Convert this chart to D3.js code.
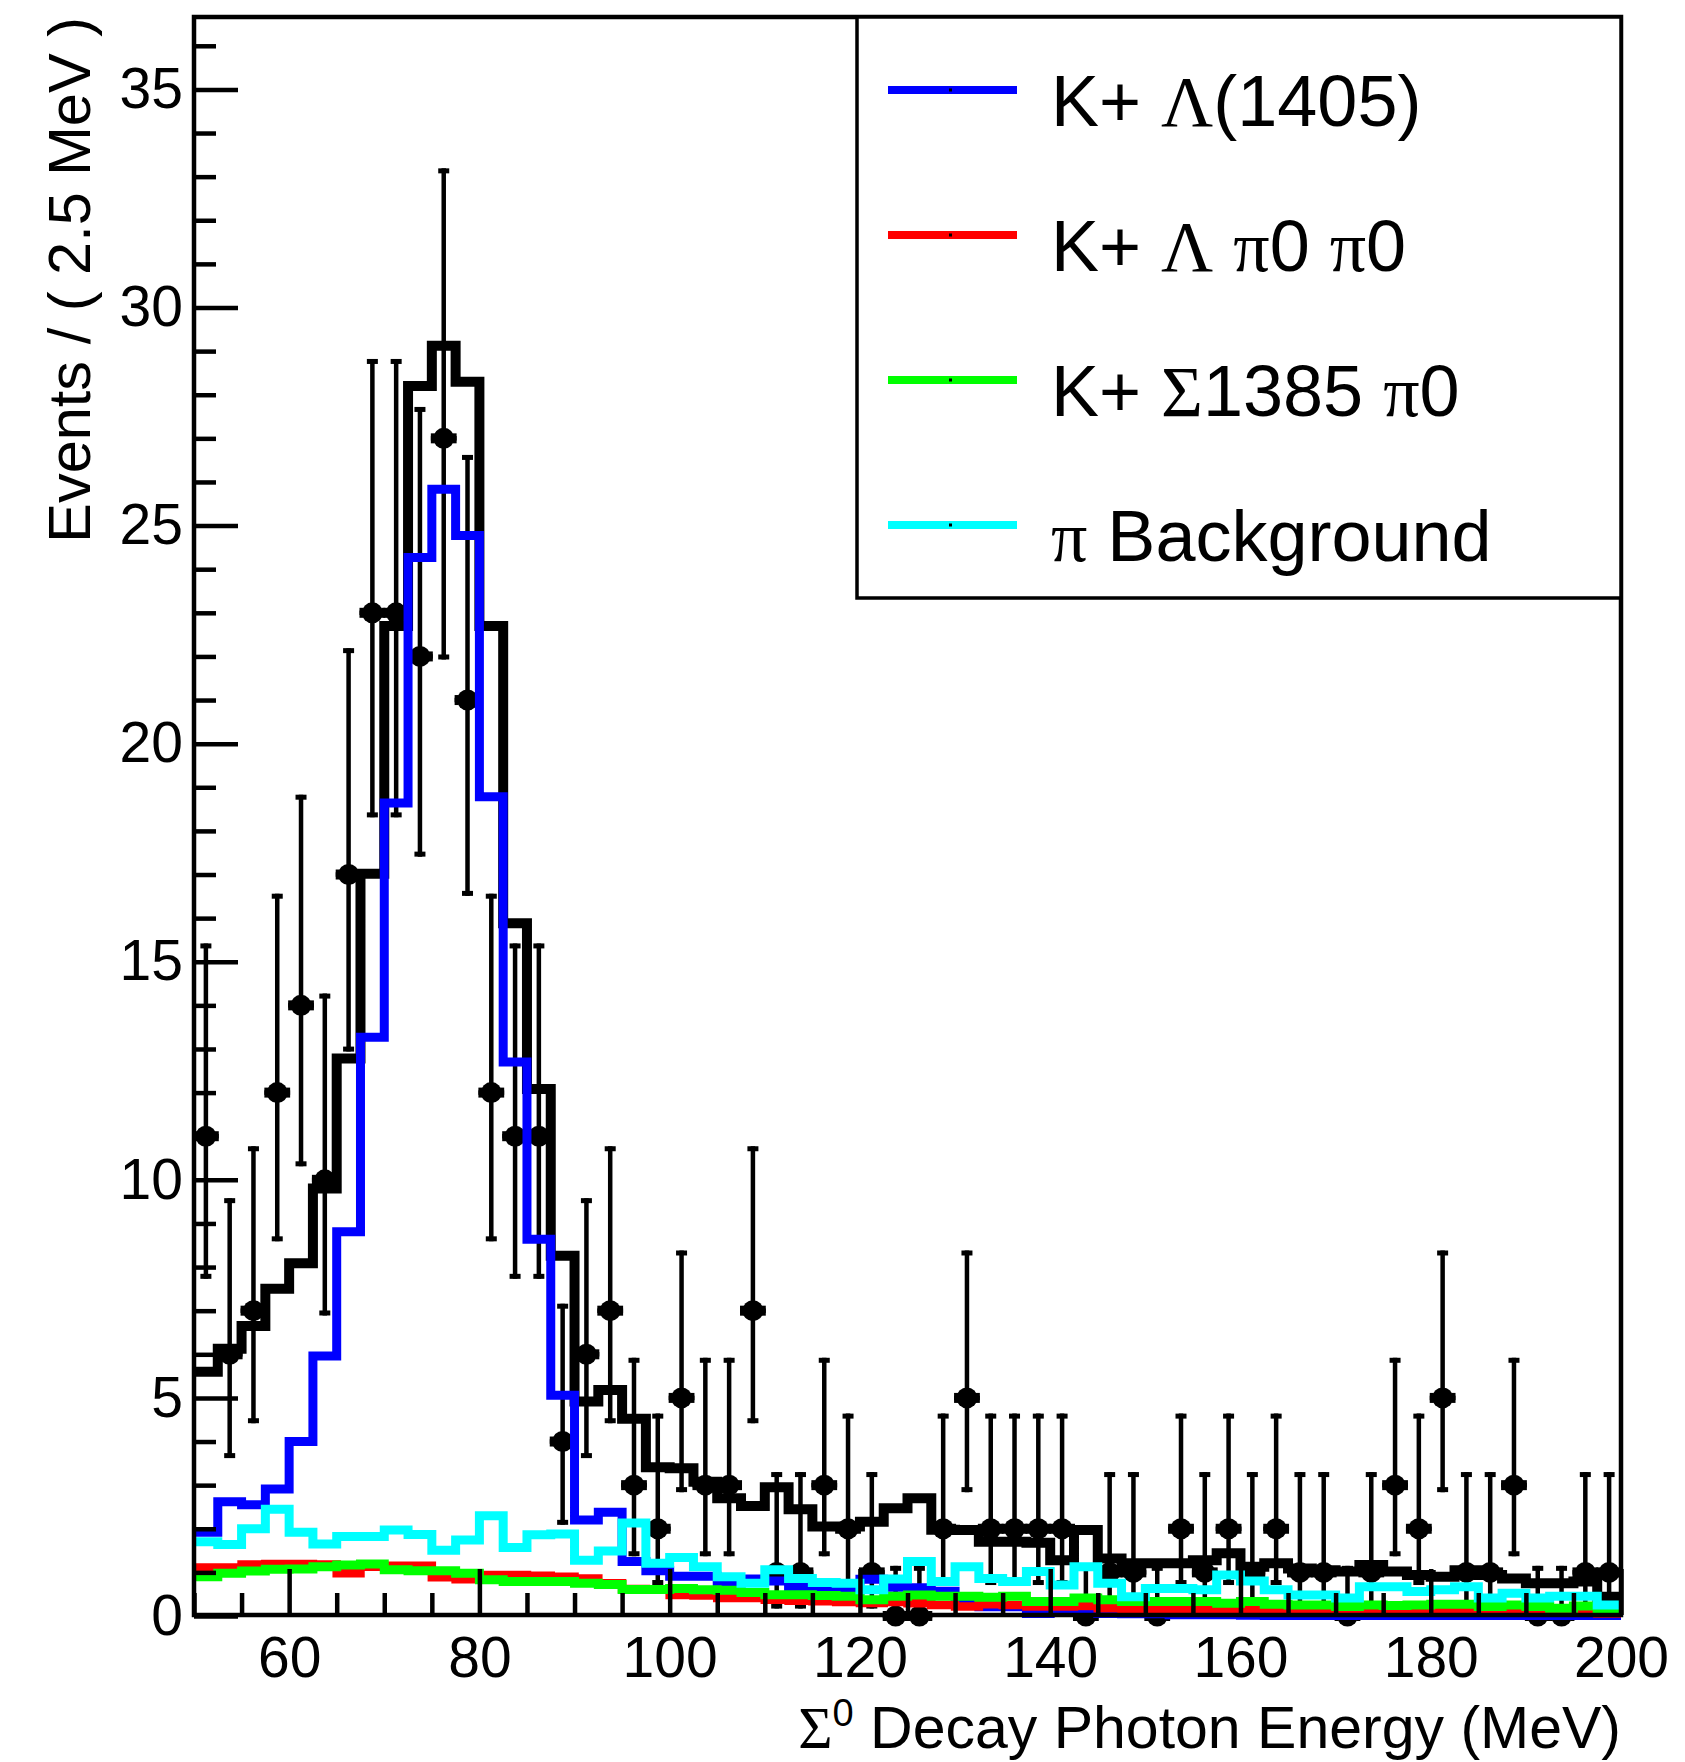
<!DOCTYPE html>
<html><head><meta charset="utf-8">
<script src="https://cdn.jsdelivr.net/npm/d3@7/dist/d3.min.js"></script>
<style>
body{margin:0;background:#fff}
svg{display:block}
text{font-family:"Liberation Sans",Arial,Helvetica,sans-serif;fill:#000}
</style>
</head><body><div id="chart"></div>
<script>
// ---------------- data ----------------
const xDomain = [50, 200];
const binWidth = 2.5;
const dataCounts = [11,6,7,12,14,10,17,23,23,22, 27,21,12,11,11,4,6,7,3,2, 5,3,3,7,1,1,3,2,1,0, 0,2,5,2,2,2,2,0,1,1, 0,2,1,2,1,2,1,1,0,1, 3,2,5,1,1,3,0,0,1,1];
const errLow = [3.27,2.38,2.58,3.41,3.69,3.11,4.06,4.69,4.69,4.59, 5.07,4.49,3.41,3.27,3.27,1.91,2.38,2.58,1.63,1.29, 2.16,1.63,1.63,2.58,0.83,0.83,1.63,1.29,0.83,0, 0,1.29,2.16,1.29,1.29,1.29,1.29,0,0.83,0.83, 0,1.29,0.83,1.29,0.83,1.29,0.83,0.83,0,0.83, 1.63,1.29,2.16,0.83,0.83,1.63,0,0,0.83,0.83];
const errHigh = [4.42,3.58,3.77,4.56,4.83,4.27,5.19,5.82,5.82,5.72, 6.19,5.62,4.56,4.42,4.42,3.16,3.58,3.77,2.92,2.64, 3.38,2.92,2.92,3.77,2.30,2.30,2.92,2.64,2.30,1.15, 1.15,2.64,3.38,2.64,2.64,2.64,2.64,1.15,2.30,2.30, 1.15,2.64,2.30,2.64,2.30,2.64,2.30,2.30,1.15,2.30, 2.92,2.64,3.38,2.30,2.30,2.92,1.15,1.15,2.30,2.30];
const totalFit = [5.60,6.13,6.65,7.50,8.09,9.80,12.78,17.02,22.70,28.20, 29.12,28.30,22.70,15.88,12.08,8.26,4.92,5.18,4.52,3.41, 3.39,3.08,2.70,2.52,2.95,2.45,2.05,2.05,2.16,2.47, 2.70,1.98,1.97,1.70,1.70,1.68,1.28,1.97,1.32,1.21, 1.21,1.21,1.28,1.44,1.13,1.21,1.09,1.05,1.02,1.17, 1.02,0.94,0.90,1.05,0.94,0.86,0.75,0.75,0.79,0.44];
const kLambda1405 = [1.92,2.62,2.55,2.91,4.00,5.96,8.81,13.27,18.64,24.27, 25.83,24.77,18.78,12.70,8.64,5.06,2.20,2.38,1.25,1.04, 0.91,0.91,0.73,0.85,0.80,0.67,0.64,0.58,0.84,0.66, 0.65,0.57,0.27,0.21,0.21,0.06,0.08,0.10,0.06,0.05, 0.05,0.03,0.03,0.03,0.02,0.01,0.01,0.01,0.01,0.01, 0.01,0.01,0.01,0.01,0.01,0.01,0.01,0.01,0.01,0.01];
const kLambdaPi0Pi0 = [1.11,1.11,1.18,1.19,1.19,1.18,0.98,1.13,1.15,1.15, 0.89,0.84,0.94,0.94,0.92,0.90,0.86,0.75,0.62,0.60, 0.48,0.47,0.41,0.41,0.37,0.35,0.34,0.32,0.30,0.32, 0.29,0.25,0.22,0.27,0.25,0.22,0.22,0.23,0.18,0.15, 0.14,0.15,0.14,0.15,0.14,0.10,0.10,0.13,0.08,0.10, 0.09,0.09,0.09,0.12,0.09,0.08,0.08,0.08,0.08,0.06];
const kSigma1385Pi0 = [0.90,0.98,1.03,1.07,1.08,1.13,1.17,1.19,1.06,1.04, 1.04,0.98,0.83,0.79,0.79,0.79,0.75,0.72,0.61,0.61, 0.63,0.60,0.59,0.54,0.49,0.49,0.47,0.45,0.37,0.45, 0.48,0.45,0.45,0.43,0.45,0.33,0.33,0.41,0.37,0.33, 0.33,0.33,0.33,0.29,0.33,0.27,0.25,0.25,0.22,0.25, 0.24,0.25,0.27,0.27,0.22,0.25,0.22,0.18,0.23,0.10];
const piBackground = [1.70,1.64,2.00,2.45,1.92,1.65,1.82,1.82,1.97,1.87, 1.51,1.74,2.30,1.57,1.86,1.88,1.28,1.49,2.13,1.21, 1.34,1.13,0.90,0.75,1.06,0.86,0.77,0.75,0.60,0.85, 1.25,0.79,1.13,0.86,0.79,1.02,0.71,1.13,0.75,0.44, 0.63,0.63,0.60,0.94,0.80,0.60,0.48,0.48,0.41,0.67, 0.67,0.56,0.60,0.67,0.41,0.52,0.41,0.45,0.45,0.25];
const xTickValues = [60, 80, 100, 120, 140, 160, 180, 200];
const yTickValues = [0, 5, 10, 15, 20, 25, 30, 35];
const legendLabels = [
  {parts:[["K+ ",0],["Λ",1],["(1405)",0]], color:"#0000ff"},
  {parts:[["K+ ",0],["Λ",1],[" ",0],["π",1],["0 ",0],["π",1],["0",0]], color:"#ff0000"},
  {parts:[["K+ ",0],["Σ",1],["1385 ",0],["π",1],["0",0]], color:"#00ff00"},
  {parts:[["π",1],[" Background",0]], color:"#00ffff"}
];
const yTitle = "Events / ( 2.5 MeV )";
const xTitleParts = ["Σ", "0", " Decay Photon Energy (MeV)"];

// ---------------- layout ----------------
const W = 1685, H = 1762;
const svg = d3.select("#chart").append("svg").attr("width", W).attr("height", H);
const x = d3.scaleLinear().domain(xDomain).range([194, 1621]);
const y = d3.scaleLinear().domain([0, 36.66]).range([1616, 17]);

const binEdges = dataCounts.map((d, i) => xDomain[0] + i * binWidth);

// ---------------- data points ----------------
const gData = svg.append("g");
dataCounts.forEach((c, i) => {
  const cx = x(binEdges[i] + binWidth / 2);
  const x0 = x(binEdges[i]), x1 = x(binEdges[i] + binWidth);
  const yc = y(c), yt = y(c + errHigh[i]), yb = y(c - errLow[i]);
  gData.append("line").attr("x1", cx).attr("x2", cx).attr("y1", yt).attr("y2", yb)
    .attr("stroke", "#000").attr("stroke-width", 4.5);
  gData.append("rect").attr("x", cx - 5.5).attr("y", yt).attr("width", 11).attr("height", 5).attr("fill", "#000");
  if (errLow[i] > 0)
    gData.append("rect").attr("x", cx - 5.5).attr("y", yb - 5).attr("width", 11).attr("height", 5).attr("fill", "#000");
  gData.append("line").attr("x1", x0 - 1).attr("x2", x1 + 1).attr("y1", yc).attr("y2", yc)
    .attr("stroke", "#000").attr("stroke-width", 4.5);
  gData.append("rect").attr("x", x0 - 1).attr("y", yc - 5).attr("width", 4).attr("height", 10).attr("fill", "#000");
  gData.append("rect").attr("x", x1 - 3).attr("y", yc - 5).attr("width", 4).attr("height", 10).attr("fill", "#000");
  gData.append("circle").attr("cx", cx).attr("cy", yc).attr("r", 10.5).attr("fill", "#000");
});

// ---------------- step curves ----------------
const stepLine = d3.line().x(d => x(d[0])).y(d => y(d[1])).curve(d3.curveStepAfter);
function stepPoints(vals) {
  const pts = vals.map((v, i) => [binEdges[i], v]);
  pts.push([xDomain[1], vals[vals.length - 1]]);
  return pts;
}
const curves = [
  {vals: totalFit, color: "#000000", w: 10},
  {vals: kLambda1405, color: "#0000ff", w: 9},
  {vals: kLambdaPi0Pi0, color: "#ff0000", w: 8.5},
  {vals: kSigma1385Pi0, color: "#00ff00", w: 9},
  {vals: piBackground, color: "#00ffff", w: 9}
];
curves.forEach(cv => {
  svg.append("path").attr("d", stepLine(stepPoints(cv.vals)))
    .attr("fill", "none").attr("stroke", cv.color).attr("stroke-width", cv.w)
    .attr("stroke-linejoin", "miter").attr("stroke-linecap", "butt");
});

// ---------------- axes ----------------
function styleAxis(g) {
  g.select(".domain").remove();
  g.selectAll(".tick line").attr("stroke", "#000").attr("stroke-width", 4.5);
  g.selectAll(".tick text").attr("font-size", 57).attr("font-family", "Liberation Sans, Arial, sans-serif").attr("fill", "#000");
}
const yMinor = d3.range(0, 37, 1).filter(v => v % 5 !== 0);
const xMinor = d3.range(50, 201, 5).filter(v => xTickValues.indexOf(v) < 0);

svg.append("g").attr("transform", "translate(194,0)")
  .call(d3.axisLeft(y).tickValues(yMinor).tickSize(-22).tickFormat(""))
  .call(styleAxis);
svg.append("g").attr("transform", "translate(194,0)")
  .call(d3.axisLeft(y).tickValues(yTickValues).tickSize(-44).tickPadding(11).tickFormat(d3.format("d")))
  .call(styleAxis);
svg.append("g").attr("transform", "translate(0,1615)")
  .call(d3.axisBottom(x).tickValues(xMinor).tickSize(-22).tickFormat(""))
  .call(styleAxis);
svg.append("g").attr("transform", "translate(0,1615)")
  .call(d3.axisBottom(x).tickValues(xTickValues).tickSize(-46).tickPadding(22).tickFormat(d3.format("d")))
  .call(styleAxis);

// frame
svg.append("rect").attr("x", 194).attr("y", 17).attr("width", 1427).attr("height", 1598)
  .attr("fill", "none").attr("stroke", "#000").attr("stroke-width", 4.5);

// axis titles
svg.append("text").attr("transform", "translate(90,17) rotate(-90)")
  .attr("text-anchor", "end").attr("font-size", 59.5).text(yTitle);

const xt = svg.append("text").attr("x", 1621).attr("y", 1748).attr("text-anchor", "end").attr("font-size", 59);
xt.append("tspan").attr("font-family", "Liberation Serif, serif").text(xTitleParts[0]);
xt.append("tspan").attr("font-size", 38).attr("dy", -22).text(xTitleParts[1]);
xt.append("tspan").attr("dy", 22).text(xTitleParts[2]);

// ---------------- legend ----------------
const lg = svg.append("g");
lg.append("rect").attr("x", 857).attr("y", 17).attr("width", 764).attr("height", 581)
  .attr("fill", "#fff").attr("stroke", "#000").attr("stroke-width", 3.5);
legendLabels.forEach((L, i) => {
  const ly = 90 + i * 145;
  lg.append("line").attr("x1", 888).attr("x2", 1017).attr("y1", ly).attr("y2", ly)
    .attr("stroke", L.color).attr("stroke-width", 8);
  lg.append("rect").attr("x", 949).attr("y", ly - 1.5).attr("width", 3).attr("height", 3).attr("fill", "#000");
  const t = lg.append("text").attr("x", 1051).attr("y", ly + 36).attr("font-size", 72);
  L.parts.forEach(p => {
    const s = t.append("tspan").text(p[0]);
    if (p[1]) s.attr("font-family", "Liberation Serif, serif");
  });
});
</script>
</body></html>
